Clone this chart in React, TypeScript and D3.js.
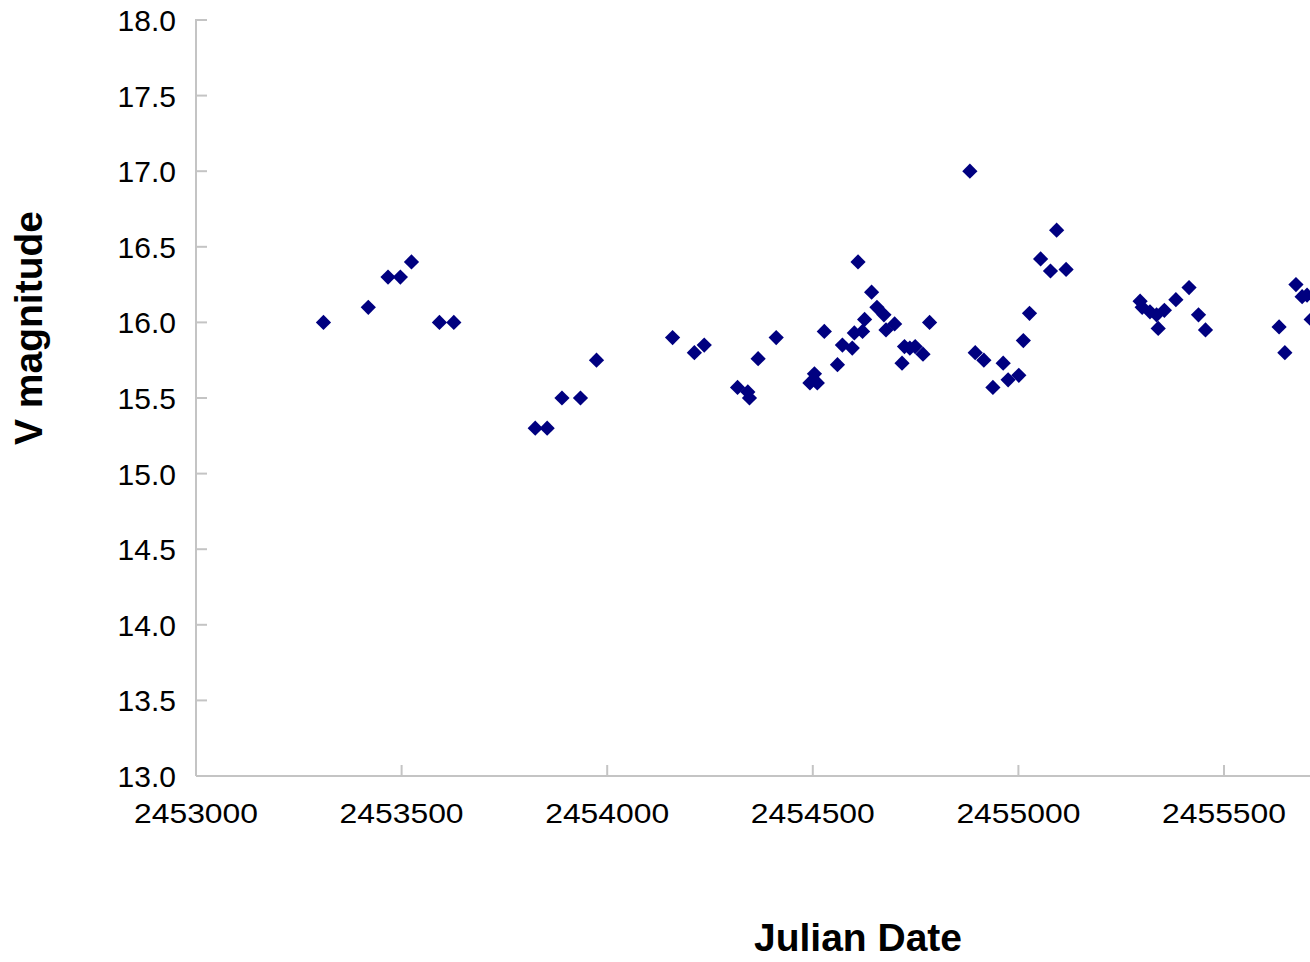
import React from "react";
import * as d3 from "d3";

// Julian dates and V magnitudes
const julianDates = [
    2453310, 2453419, 2453467, 2453497, 2453524, 2453592, 2453627,
    2453825, 2453854, 2453890, 2453935, 2453974,
    2454159, 2454212, 2454236, 2454317, 2454342, 2454346, 2454367, 2454411,
    2454493, 2454504, 2454511, 2454528, 2454560, 2454572, 2454596, 2454601,
    2454610, 2454621, 2454626, 2454643, 2454656, 2454673, 2454678, 2454699,
    2454717, 2454723, 2454736, 2454749, 2454768, 2454784,
    2454882, 2454895, 2454916, 2454938, 2454963, 2454975, 2455001, 2455012,
    2455027, 2455054, 2455078, 2455093, 2455116,
    2455296, 2455301, 2455320, 2455336, 2455340, 2455355, 2455383, 2455415,
    2455438, 2455455, 2455634, 2455648, 2455675, 2455690, 2455702, 2455712,
];
const vMagnitudes = [
    16.0, 16.1, 16.3, 16.3, 16.4, 16.0, 16.0,
    15.3, 15.3, 15.5, 15.5, 15.75,
    15.9, 15.8, 15.85, 15.57, 15.54, 15.5, 15.76, 15.9,
    15.6, 15.66, 15.6, 15.94, 15.72, 15.85, 15.83, 15.93,
    16.4, 15.94, 16.02, 16.2, 16.1, 16.05, 15.95, 15.99,
    15.73, 15.84, 15.83, 15.84, 15.79, 16.0,
    17.0, 15.8, 15.75, 15.57, 15.73, 15.62, 15.65, 15.88,
    16.06, 16.42, 16.34, 16.61, 16.35,
    16.14, 16.1, 16.07, 16.05, 15.96, 16.08, 16.15, 16.23,
    16.05, 15.95, 15.97, 15.8, 16.25, 16.17, 16.18, 16.02,
];
// 2456000 lies past the right edge of the window, so no label for it
const xTicks = [2453000, 2453500, 2454000, 2454500, 2455000, 2455500];
const yTicks = d3.range(13, 18.001, 0.5);

const WIDTH = 1310;
const HEIGHT = 962;
const FONT = "'Liberation Sans', Arial, sans-serif";
const AXIS = "#c4c4c4";

export default function App() {
    const x = d3.scaleLinear().domain([2453000, 2456000]).range([196, 1429.6]);
    const y = d3.scaleLinear().domain([13, 18]).range([776, 20]);
    const diamond = d3.symbol(d3.symbolSquare, 116)();

    const points = julianDates.map((jd, i) => ({ jd, v: vMagnitudes[i] }));

    return (
        <svg width={WIDTH} height={HEIGHT} style={{ position: "absolute", left: 0, top: 0, background: "#fff" }}
             fontFamily={FONT}>
            {/* axes */}
            <line x1={x.range()[0]} x2={x.range()[0]} y1={y(18) - 1} y2={y(13)} stroke={AXIS} strokeWidth={2}/>
            <line x1={x.range()[0]} x2={x.range()[1]} y1={y(13)} y2={y(13)} stroke={AXIS} strokeWidth={2}/>
            {yTicks.map((t) => (
                <g key={`y${t}`}>
                    <line x1={x.range()[0]} x2={x.range()[0] + 11} y1={y(t)} y2={y(t)} stroke={AXIS} strokeWidth={2}/>
                    <text x={176} y={y(t) + 11} textAnchor="end" fontSize={30} fill="#000">{t.toFixed(1)}</text>
                </g>
            ))}
            {xTicks.map((t) => (
                <g key={`x${t}`}>
                    <line x1={x(t)} x2={x(t)} y1={y(13)} y2={y(13) - 11} stroke={AXIS} strokeWidth={2}/>
                    <text x={x(t)} y={y(13) + 47} textAnchor="middle" fontSize={28} fill="#000"
                          textLength={124} lengthAdjust="spacingAndGlyphs">{t}</text>
                </g>
            ))}
            {/* data */}
            <g fill="#000080">
                {points.map((d, i) => (
                    <path key={i} d={diamond ?? undefined} transform={`translate(${x(d.jd)},${y(d.v)}) rotate(45)`}/>
                ))}
            </g>
            {/* titles */}
            <text x={858} y={951} textAnchor="middle" fontSize={39} fontWeight="bold">Julian Date</text>
            <text transform={`translate(42,328) rotate(-90)`} textAnchor="middle" fontSize={39} fontWeight="bold">V magnitude</text>
        </svg>
    );
}
